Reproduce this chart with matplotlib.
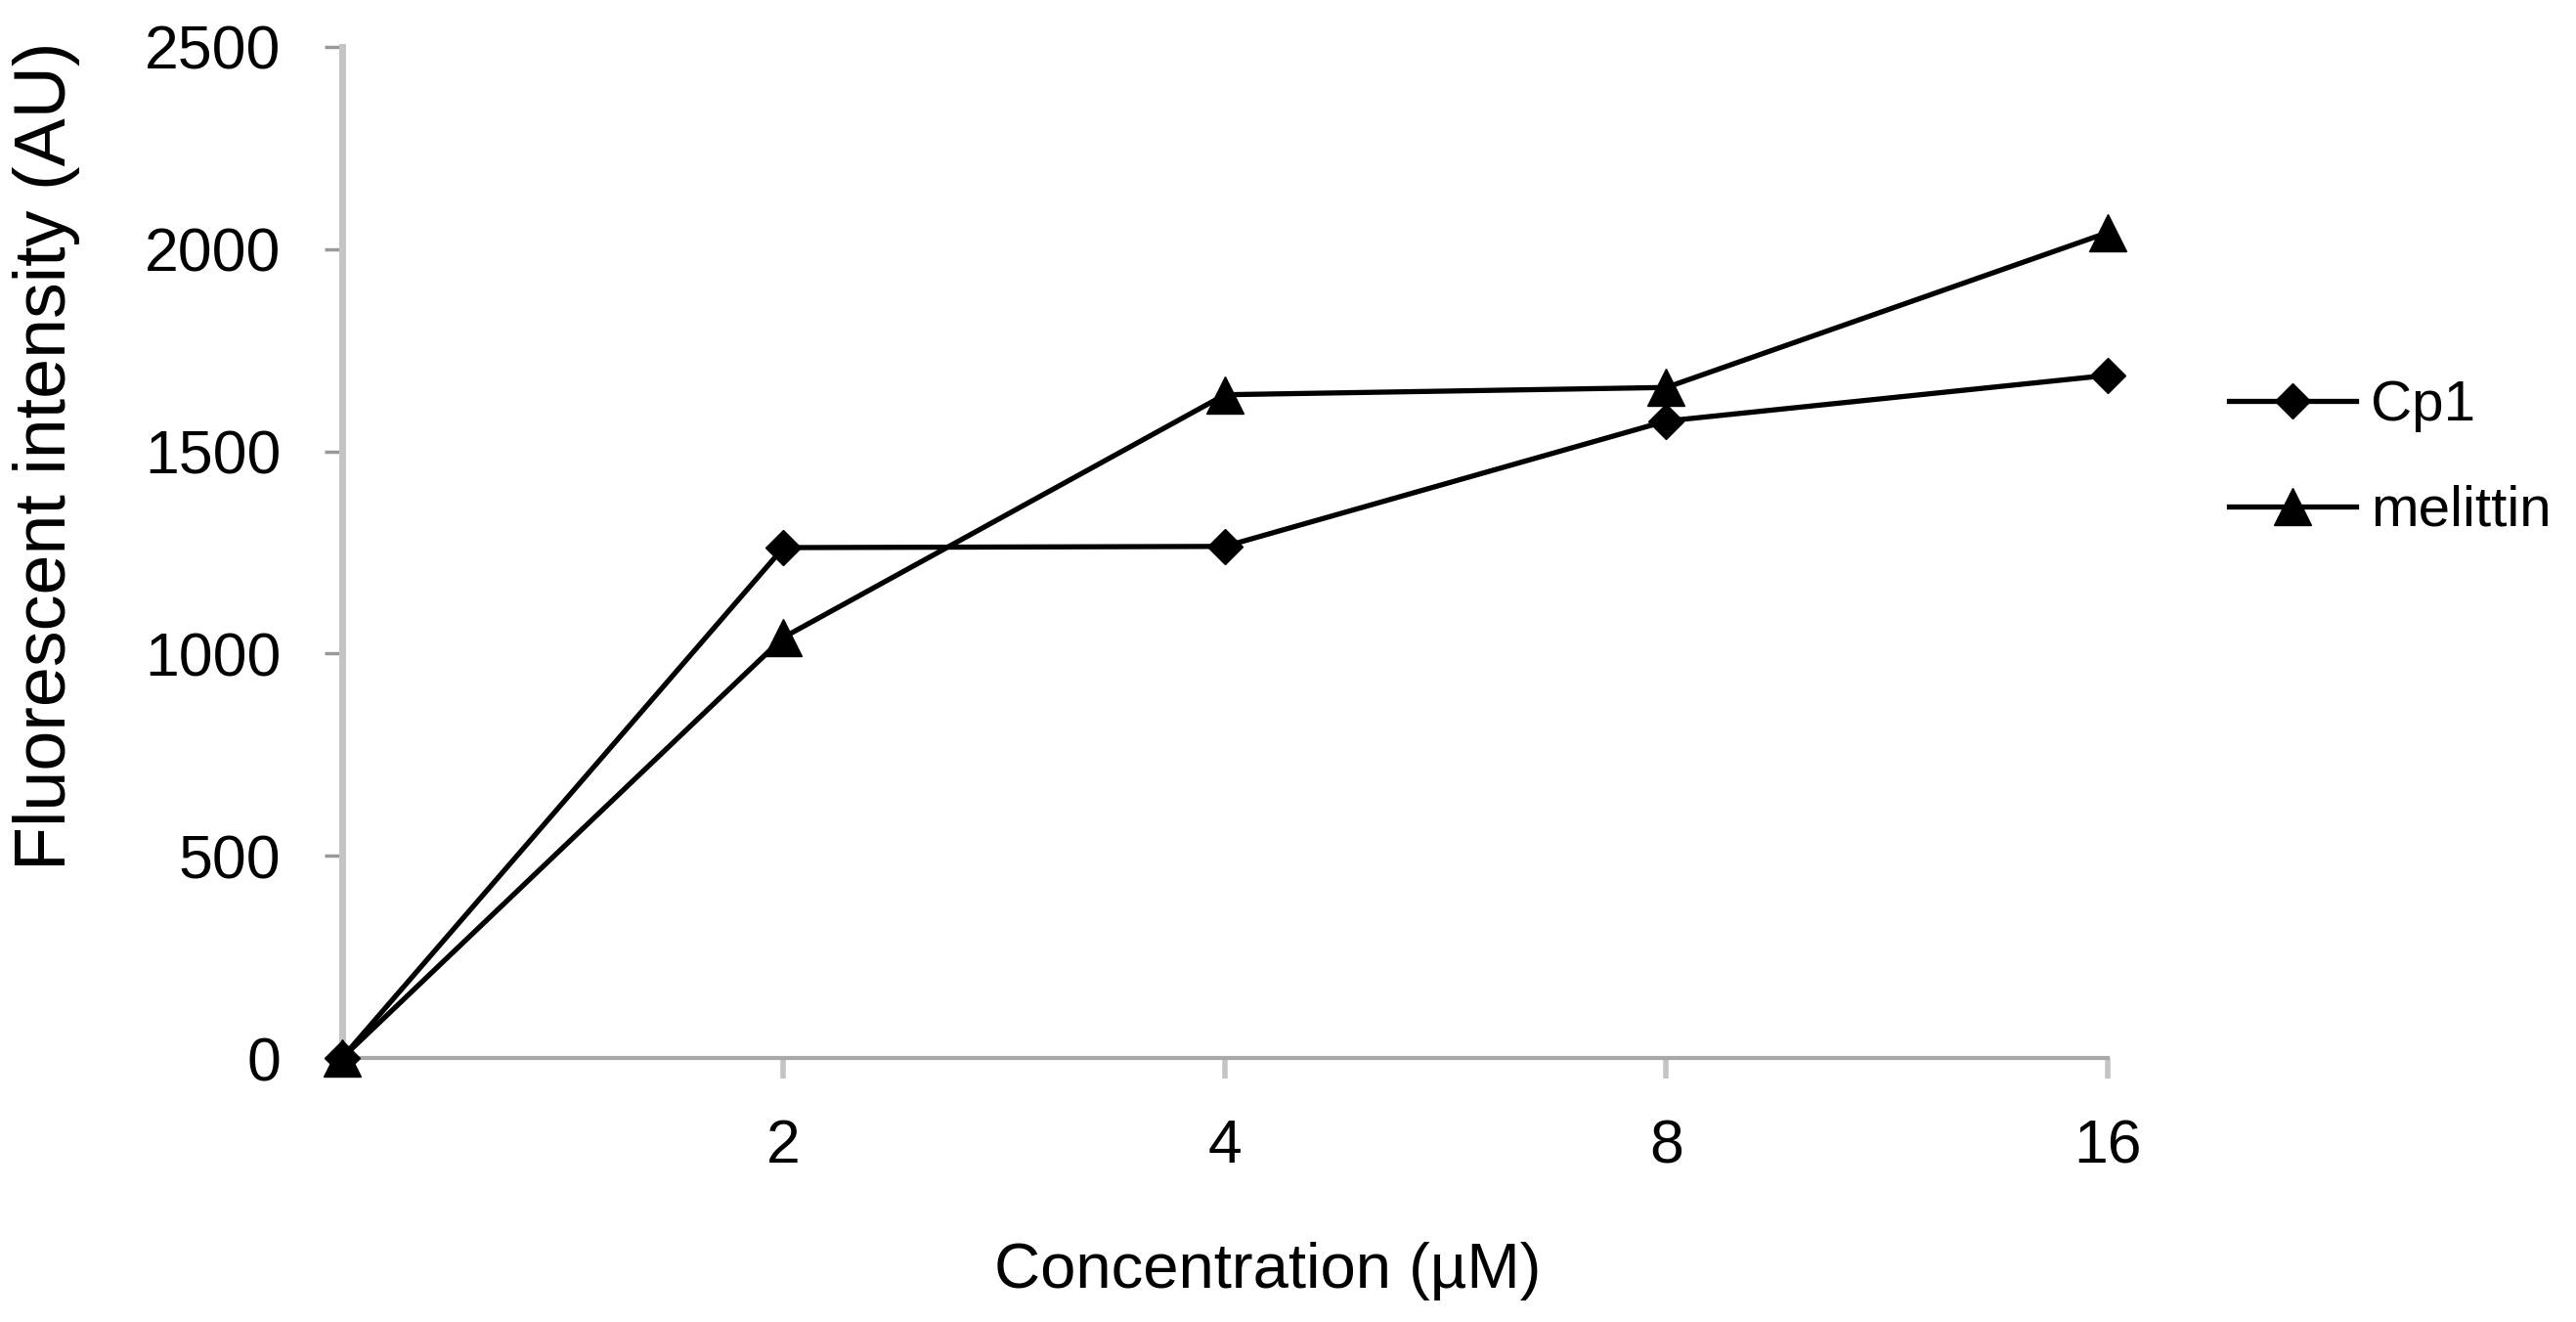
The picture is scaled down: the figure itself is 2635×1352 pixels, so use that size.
import matplotlib.pyplot as plt
import numpy as np

plt.rcParams['font.family'] = ['Liberation Sans', 'DejaVu Sans']

categories = ['', '2', '4', '8', '16']
cp1 = [0, 1262, 1265, 1575, 1688]
melittin = [0, 1040, 1640, 1658, 2041]
y_ticks = [0, 500, 1000, 1500, 2000, 2500]

fig = plt.figure(figsize=(26.35, 13.52), dpi=100)
ax = fig.add_axes([0.1328, 0.1997, 0.8182 - 0.1328, 0.9645 - 0.1997])

x = np.arange(len(categories))
ax.plot(x, cp1, color='black', lw=3.8, marker='D', ms=18, mew=1,
        label='Cp1', clip_on=False, zorder=3)
ax.plot(x, melittin, color='black', lw=3.8, marker='^', ms=28, mew=1,
        label='melittin', clip_on=False, zorder=3)

ax.set_xlim(0, len(categories) - 1)
ax.set_ylim(0, 2500)
ax.set_xticks(x[1:])
ax.set_xticklabels(categories[1:])
ax.set_yticks(y_ticks)

for s in ['top', 'right']:
    ax.spines[s].set_visible(False)
ax.spines['left'].set_color('#c4c4c4')
ax.spines['left'].set_linewidth(5)
ax.spines['bottom'].set_color('#a8a8a8')
ax.spines['bottom'].set_linewidth(3)

ax.tick_params(axis='x', direction='out', length=15, width=4, color='#c4c4c4',
               pad=29, labelsize=45)
ax.tick_params(axis='y', direction='out', length=13, width=2.5, color='#999999',
               pad=32, labelsize=45)

fig.text(0.492, 0.0385, 'Concentration (µM)', ha='center', va='center', fontsize=47)
fig.text(0.018, 0.655, 'Fluorescent intensity (AU)', ha='center', va='center',
         rotation=90, fontsize=53)

fig.legend(loc='center left', bbox_to_anchor=(0.8653, 0.653), frameon=False,
           fontsize=42, borderpad=0, borderaxespad=0, handlelength=2.23,
           handletextpad=0.26, labelspacing=0.92)

fig.savefig('out.png', dpi=100)
